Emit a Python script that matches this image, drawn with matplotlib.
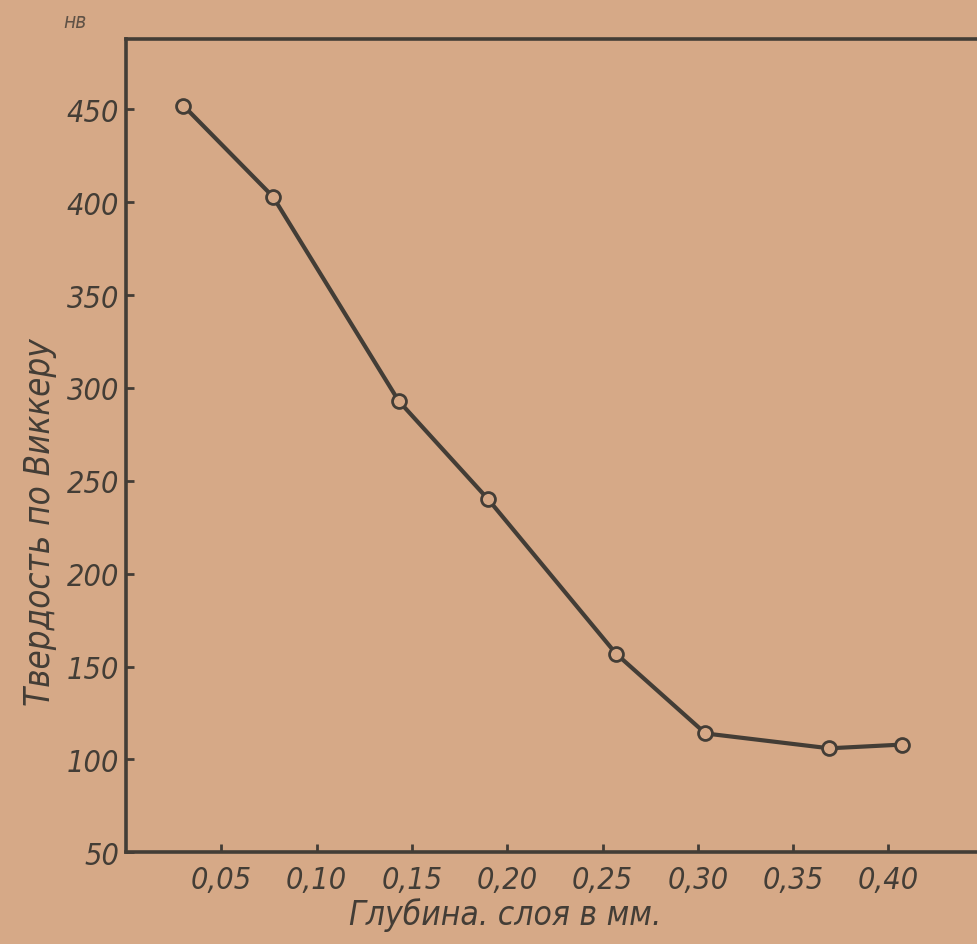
import matplotlib.pyplot as plt
from matplotlib.ticker import FuncFormatter

# depth of layer, mm  /  Vickers hardness
depth = [0.030, 0.077, 0.143, 0.190, 0.257, 0.304, 0.369, 0.407]
hardness = [452, 403, 293, 240, 157, 114, 106, 108]

x_ticks = [0.05, 0.10, 0.15, 0.20, 0.25, 0.30, 0.35, 0.40]
y_ticks = [50, 100, 150, 200, 250, 300, 350, 400, 450]

paper = '#d6a987'
ink = '#433d36'

fig = plt.figure(figsize=(9.78, 9.45), dpi=100, facecolor=paper)
ax = fig.add_axes([0.129, 0.097, 0.871, 0.861], facecolor=paper)

ax.plot(depth, hardness, '-', color=ink, lw=3, zorder=2)
ax.plot(depth, hardness, 'o', ms=10, mfc=paper, mec=ink, mew=2, zorder=3)

ax.set_xlim(0, 0.447)
ax.set_ylim(50, 488)
ax.set_xticks(x_ticks)
ax.set_yticks(y_ticks)
ax.xaxis.set_major_formatter(FuncFormatter(lambda v, p: f'{v:.2f}'.replace('.', ',')))

for s in ['left', 'bottom', 'top']:
    ax.spines[s].set_color(ink)
    ax.spines[s].set_linewidth(2.6)
ax.spines['right'].set_visible(False)

ax.tick_params(direction='in', length=6, width=2, color=ink, labelcolor=ink)
ax.tick_params(axis='x', pad=9)
ax.tick_params(axis='y', pad=5)
for lab in ax.get_xticklabels() + ax.get_yticklabels():
    lab.set_style('italic')
    lab.set_fontstretch('condensed')
    lab.set_fontsize(22)

fig.text(0.041, 0.448, 'Твердость по Виккеру', rotation=90, ha='center', va='center',
         style='italic', fontstretch='condensed', fontsize=25, color=ink)
fig.text(0.517, 0.032, 'Глубина. слоя в мм.', ha='center', va='center',
         style='italic', fontstretch='condensed', fontsize=24, color=ink)
fig.text(0.077, 0.97, 'нв', ha='center', va='baseline',
         style='italic', fontstretch='condensed', fontsize=15, color=ink, alpha=0.8)

fig.savefig('out.png', dpi=100, facecolor=paper)
